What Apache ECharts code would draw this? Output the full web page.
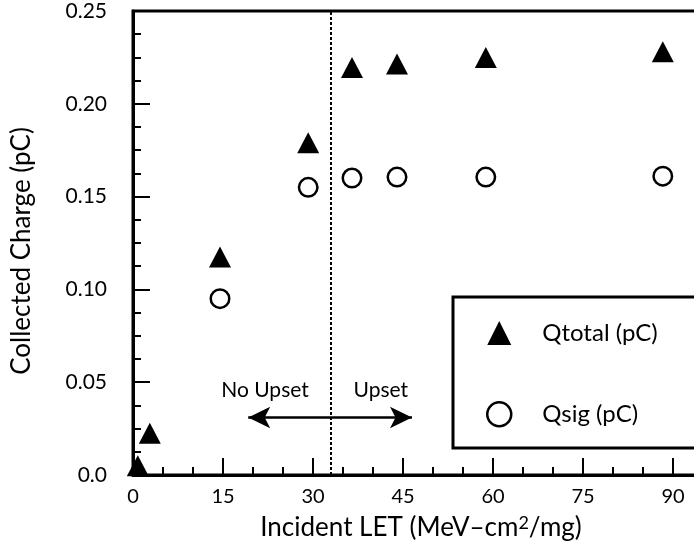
<!DOCTYPE html>
<html>
<head>
<meta charset="utf-8">
<script src="https://cdn.jsdelivr.net/npm/echarts@6/dist/echarts.min.js"></script>
<style>
  html, body { margin: 0; padding: 0; background: #fff; }
  #chart { width: 694px; height: 559px; }
</style>
</head>
<body>
<div id="chart"></div>
<script>
// Incident LET (MeV-cm^2/mg)
const letTotal = [0.8, 2.8, 14.5, 29.2, 36.5, 44.0, 58.8, 88.3];
// Total collected charge Qtotal (pC)
const qTotal = [0.005, 0.0225, 0.1175, 0.179, 0.2195, 0.2215, 0.225, 0.228];
const letSig = [14.5, 29.2, 36.5, 44.0, 58.8, 88.3];
// Signal charge Qsig (pC)
const qSig = [0.095, 0.155, 0.160, 0.1605, 0.1605, 0.161];

const xTicks = [0, 15, 30, 45, 60, 75, 90];
const yTicks = ['0.0', '0.05', '0.10', '0.15', '0.20', '0.25'];

// Upset threshold and the annotation arrow
const thresholdLET = 33;
const arrowSpan = [19.2, 46.5];
const arrowLevel = 0.031;

const FONT = 'Lato';
const chart = echarts.init(document.getElementById('chart'), null, { renderer: 'canvas' });

const pairs = (xs, ys) => xs.map((x, i) => [x, ys[i]]);

chart.setOption({
  animation: false,
  backgroundColor: '#fff',
  textStyle: { fontFamily: FONT, color: '#000' },
  grid: {
    left: 133, top: 11, bottom: 84, right: -69,
    outerBoundsMode: 'none', containLabel: false,
    show: true, borderColor: '#000', borderWidth: 3, backgroundColor: 'transparent'
  },
  xAxis: {
    type: 'value', min: 0, max: 105, interval: 15,
    axisLine: { show: true, lineStyle: { color: '#000', width: 3 } },
    axisTick: { show: true, inside: true, length: 17, lineStyle: { color: '#000', width: 2 } },
    minorTick: { show: true, splitNumber: 3, length: 8, lineStyle: { color: '#000', width: 2 } },
    splitLine: { show: false },
    axisLabel: {
      margin: 12, fontSize: 20, fontFamily: FONT, color: '#000',
      formatter: v => (xTicks.indexOf(v) >= 0 ? String(v) : '')
    }
  },
  yAxis: {
    type: 'value', min: 0, max: 0.25, interval: 0.05,
    axisLine: { show: true, lineStyle: { color: '#000', width: 3 } },
    axisTick: { show: true, inside: true, length: 17, lineStyle: { color: '#000', width: 2 } },
    minorTick: { show: true, splitNumber: 4, length: 8, lineStyle: { color: '#000', width: 2 } },
    splitLine: { show: false },
    axisLabel: {
      margin: 26, fontSize: 21, fontFamily: FONT, color: '#000',
      formatter: v => yTicks[Math.round(v / 0.05)]
    }
  },
  legend: {
    orient: 'vertical', left: 481, top: 316, itemGap: 56,
    itemWidth: 24, itemHeight: 24, z: 10,
    textStyle: { fontSize: 24, fontFamily: FONT, color: '#000', padding: [0, 0, 0, 26] },
    data: [
      { name: 'Qtotal (pC)', icon: 'triangle', itemStyle: { color: '#000' } },
      { name: 'Qsig (pC)', icon: 'circle', itemStyle: { color: 'transparent', borderColor: '#000', borderWidth: 2.5 } }
    ]
  },
  graphic: [
    {
      type: 'rect', shape: { x: 453, y: 297, width: 300, height: 151 },
      style: { fill: '#fff', stroke: '#000', lineWidth: 3 }, z: 1
    },
    {
      type: 'text', x: 421, y: 528, z: 10,
      style: {
        text: '{a|Incident LET (MeV–cm}{s|2}{a|/mg)}',
        align: 'center', verticalAlign: 'middle',
        rich: {
          a: { fontSize: 26, fontFamily: FONT, fill: '#000', color: '#000' },
          s: { fontSize: 18, fontFamily: FONT, fill: '#000', color: '#000', verticalAlign: 'top', padding: [0, 0, 10, 0] }
        }
      }
    },
    {
      type: 'text', x: 22, y: 251, rotation: Math.PI / 2, z: 10,
      style: {
        text: 'Collected Charge (pC)', align: 'center', verticalAlign: 'middle',
        fontSize: 26, fontFamily: FONT, fill: '#000'
      }
    }
  ],
  series: [
    {
      name: 'Qtotal (pC)', type: 'scatter', symbol: 'triangle', symbolSize: [22, 21],
      itemStyle: { color: '#000', opacity: 1 }, z: 3,
      data: pairs(letTotal, qTotal)
    },
    {
      name: 'Qsig (pC)', type: 'scatter', symbol: 'circle', symbolSize: 18.5,
      itemStyle: { color: 'transparent', borderColor: '#000', borderWidth: 2.5, opacity: 1 }, z: 3,
      data: pairs(letSig, qSig)
    },
    {
      // Upset threshold marker
      name: 'threshold', type: 'line', data: [], silent: true,
      markLine: {
        silent: true, symbol: 'none', animation: false,
        label: { show: false },
        lineStyle: { color: '#000', type: [3, 2], width: 2 },
        data: [ { xAxis: thresholdLET } ]
      }
    },
    {
      // Double-headed arrow with the region captions above it
      name: 'arrow', type: 'line', data: [], silent: true,
      markLine: {
        silent: true, animation: false,
        symbol: ['arrow', 'arrow'], symbolSize: [16, 22],
        label: { show: false },
        lineStyle: { color: '#000', type: 'solid', width: 2.5 },
        data: [[ { coord: [arrowSpan[0], arrowLevel] }, { coord: [arrowSpan[1], arrowLevel] } ]]
      },
      markPoint: {
        symbol: 'rect', symbolSize: 1, silent: true,
        itemStyle: { color: 'transparent' },
        label: { show: true, color: '#000', fontSize: 21, fontFamily: FONT, position: 'inside' },
        data: [
          { coord: [22.0, 0.0458], value: 'No Upset', label: { formatter: 'No Upset' } },
          { coord: [41.3, 0.0458], value: 'Upset', label: { formatter: 'Upset' } }
        ]
      }
    }
  ]
});
</script>
</body>
</html>
